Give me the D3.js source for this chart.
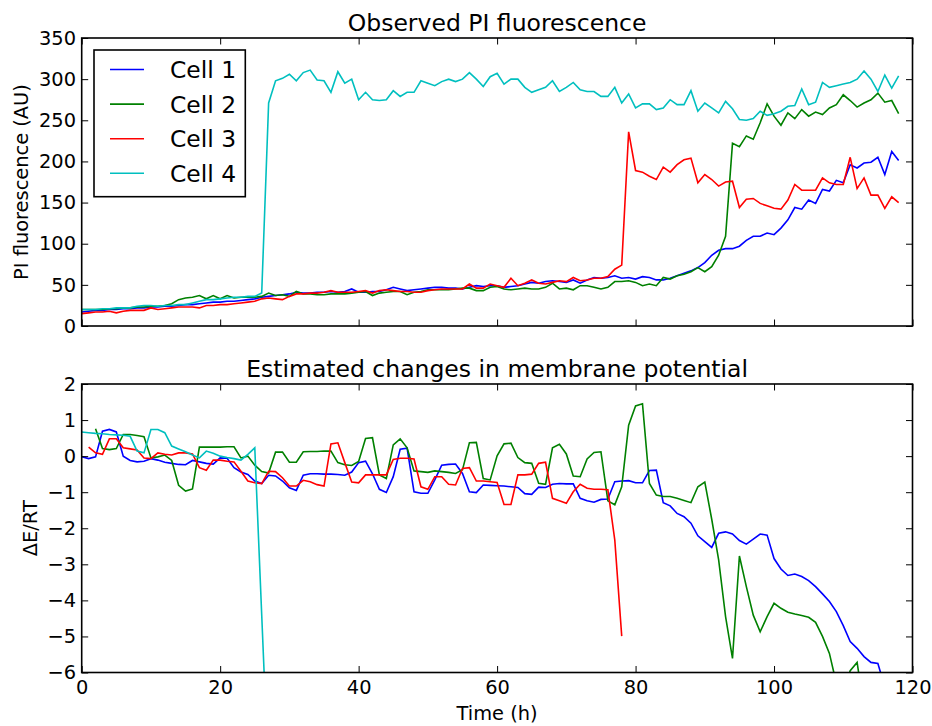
<!DOCTYPE html>
<html>
<head>
<meta charset="utf-8">
<script src="https://cdn.jsdelivr.net/npm/d3@7"></script>
<style>
  html, body { margin: 0; padding: 0; background: #fff; }
  svg { display: block; font-family: "DejaVu Sans", sans-serif; }
</style>
</head>
<body>
<svg id="fig" width="932" height="726"></svg>
<script>
// ---- data: one sample per hour, starting at t = 0 h ----
const cellNames = ["Cell 1", "Cell 2", "Cell 3", "Cell 4"];
const cellColors = ["#0000ff", "#008000", "#ff0000", "#00bfbf"];

// Observed PI fluorescence (AU)
const piCell1 = [17,18,19,19,20,20,21,21,22,22, 23,23,24,24,25,26,26,27,28,29,
  29,30,30,31,32,33,35,36,37,38, 39,41,40,40,41,41,42,41,42,45,
  41,41,42,42,44,47,45,43,44,45, 46,47,47,46,46,45,47,49,48,49,
  49,47,48,49,51,53,52,54,55,54, 53,56,52,56,59,58,59,61,58,59,
  57,60,59,56,56,58,61,64,67,71, 77,86,92,94,94,97,104,109,109,113,
  111,119,129,144,142,153,149,166,164,177, 174,196,192,198,199,205,184,212,201];
const piCell2 = [20,20,20,20,21,21,22,22,23,23, 24,24,25,27,32,34,35,37,33,37,
  33,37,34,35,35,35,36,40,37,38, 36,42,39,39,38,38,39,39,39,40,
  41,42,37,40,41,42,42,38,41,42, 44,44,44,44,45,46,46,43,43,47,
  48,45,44,45,46,45,45,47,52,45, 46,44,49,49,47,45,47,54,54,55,
  53,49,51,49,59,57,61,63,66,71, 66,72,86,109,222,218,231,227,247,270,
  255,244,259,252,263,255,260,257,265,269, 281,274,266,271,275,283,272,274,258];
const piCell3 = [15,16,17,17,18,16,18,19,19,19, 22,20,21,22,23,23,23,22,25,25,
  26,26,27,28,29,30,33,34,33,32, 36,39,39,40,40,41,43,41,41,41,
  42,43,40,43,44,43,42,42,41,41, 43,44,45,45,45,45,51,46,46,51,
  49,47,58,49,52,56,52,51,53,55, 54,59,55,56,58,58,60,69,74,236,
  189,187,182,178,193,187,196,202,204,174, 184,178,170,175,176,144,154,155,149,146,
  143,142,153,172,165,165,165,180,174,172, 172,205,167,180,159,159,143,157,150];
const piCell4 = [20,20,20,21,21,22,22,22,24,25, 25,24,25,25,26,26,28,30,32,32,
  33,34,35,35,36,36,40,271,298,301, 306,298,308,311,299,298,284,309,295,300,
  275,284,275,274,275,286,279,284,284,298, 295,292,297,300,297,300,308,300,291,303,
  307,294,300,300,290,284,287,290,298,285, 290,296,287,285,285,279,279,290,271,282,
  265,270,270,263,265,275,269,269,286,261, 271,265,259,273,264,251,250,252,261,256,
  258,261,267,268,288,269,272,296,290,292, 294,296,300,310,300,285,305,289,304];

// Estimated change in membrane potential (ΔE/RT)
const dECell1 = [-0.02,-0.07,-0.02,0.69,0.74,0.67,0.0,-0.12,-0.16,-0.14,
  -0.07,-0.11,-0.17,-0.2,-0.23,-0.24,-0.12,-0.16,-0.2,-0.22,
  -0.05,-0.06,-0.32,-0.44,-0.51,-0.69,-0.76,-0.53,-0.55,-0.69,
  -0.88,-0.95,-0.53,-0.49,-0.49,-0.5,-0.5,-0.51,-0.53,-0.44,
  -0.18,-0.14,-0.49,-0.92,-1.01,-0.57,0.19,0.22,-0.99,-1.03,
  -1.03,-0.66,-0.25,-0.23,-0.22,-0.48,-0.99,-1.01,-0.8,-0.81,
  -0.82,-0.83,-0.85,-0.87,-1.04,-1.06,-0.86,-0.87,-0.78,-0.76,
  -0.77,-0.77,-1.17,-1.24,-1.28,-1.2,-1.19,-0.71,-0.69,-0.68,
  -0.74,-0.74,-0.4,-0.39,-1.29,-1.38,-1.59,-1.68,-1.86,-2.21,
  -2.37,-2.53,-2.14,-2.1,-2.16,-2.34,-2.44,-2.3,-2.16,-2.19,
  -2.84,-3.13,-3.31,-3.27,-3.34,-3.45,-3.62,-3.82,-4.03,-4.31,
  -4.7,-5.14,-5.33,-5.56,-5.72,-5.75,-6.4];
const dECell2 = [null,null,0.76,0.21,0.18,0.21,0.6,0.6,0.57,0.54,
  -0.05,-0.02,0.03,-0.12,-0.81,-0.97,-0.91,0.25,0.25,0.25,
  0.25,0.26,0.26,-0.05,0.0,-0.25,-0.43,-0.47,0.11,0.11,
  -0.17,-0.17,0.12,0.13,0.13,0.14,0.14,-0.18,-0.24,-0.26,
  -0.15,0.49,0.51,-0.52,-0.62,0.31,0.48,0.23,-0.41,-0.43,
  -0.45,-0.41,-0.43,-0.45,-0.48,-0.38,0.37,0.38,-0.62,-0.66,
  0.01,0.34,0.36,-0.04,-0.18,-0.2,-0.75,-0.78,0.23,0.33,
  0.06,-0.55,-0.57,-0.08,0.1,0.12,-1.24,-1.35,-0.85,0.86,
  1.39,1.45,-0.76,-1.08,-1.12,-1.12,-1.17,-1.23,-1.29,-0.85,
  -0.72,-1.75,-2.88,-4.45,-5.61,-2.77,-3.62,-4.41,-4.87,-4.45,
  -4.08,-4.22,-4.33,-4.38,-4.42,-4.47,-4.61,-5.0,-5.47,-6.3,
  -6.5,-5.95,-5.72,-7.0];
const dECell3 = [null,0.25,0.09,0.05,0.48,0.48,0.23,0.2,0.17,-0.05,
  -0.07,0.09,0.05,0.03,0.09,0.09,0.06,-0.32,-0.39,-0.11,
  -0.11,-0.14,-0.16,-0.42,-0.69,-0.74,-0.76,-0.42,-0.43,-0.6,
  -0.83,-0.83,-0.67,-0.71,-0.79,-0.83,0.34,0.37,-0.18,-0.72,
  -0.74,-0.52,-0.52,-0.52,-0.52,-0.09,-0.06,-0.06,-0.08,-0.85,
  -0.92,-0.57,-0.57,-0.78,-0.8,-0.34,-0.32,-0.69,-0.69,-0.71,
  -0.73,-1.34,-1.34,-0.52,-0.52,-0.5,-0.2,-0.17,-1.17,-1.24,
  -1.31,-0.99,-0.78,-0.89,-0.92,-0.92,-0.93,-2.33,-4.99];
const dECell4 = [0.67,0.65,0.63,0.62,0.6,0.59,0.58,0.55,0.14,0.09,
  0.74,0.74,0.65,0.28,0.2,0.12,0.03,-0.05,0.14,0.08,
  0.0,-0.04,-0.07,-0.11,0.05,0.23,-4.4,-9.0];

const timeTicks = [0, 20, 40, 60, 80, 100, 120];
const piTicks = [0, 50, 100, 150, 200, 250, 300, 350];
const dETicks = [-6, -5, -4, -3, -2, -1, 0, 1, 2];

// ---- layout ----
const svg = d3.select("#fig");
const FONT = "DejaVu Sans";
const tickFs = 19.4, titleFs = 23.5, legendFs = 23.4;
const plotL = 81.7, plotR = 912.5;
const panels = [
  { top: 38, bottom: 326, domain: [0, 350], ticks: piTicks,
    series: [piCell1, piCell2, piCell3, piCell4],
    title: "Observed PI fluorescence", ylabel: "PI fluorescence (AU)", ylabelX: 28, xLabels: false },
  { top: 384, bottom: 672.5, domain: [-6, 2], ticks: dETicks,
    series: [dECell1, dECell2, dECell3, dECell4],
    title: "Estimated changes in membrane potential", ylabel: "\u0394E/RT", ylabelX: 37, xLabels: true }
];

const x = d3.scaleLinear().domain([0, 120]).range([plotL, plotR]);
const tickLen = 6.5;

panels.forEach((p, pi) => {
  const y = d3.scaleLinear().domain(p.domain).range([p.bottom, p.top]);
  const g = svg.append("g");
  const clipId = "clip" + pi;
  svg.append("clipPath").attr("id", clipId)
    .append("rect").attr("x", plotL).attr("y", p.top)
    .attr("width", plotR - plotL).attr("height", p.bottom - p.top);

  // data lines
  const line = d3.line()
    .defined(d => d[1] !== null)
    .x(d => x(d[0])).y(d => y(d[1]));
  const lines = g.append("g").attr("clip-path", `url(#${clipId})`);
  p.series.forEach((s, i) => {
    lines.append("path")
      .datum(s.map((v, t) => [t, v]))
      .attr("d", line)
      .attr("fill", "none")
      .attr("stroke", cellColors[i])
      .attr("stroke-width", 1.6)
      .attr("stroke-linejoin", "miter");
  });

  // axes with inward ticks on all four sides
  const styleAxis = sel => {
    sel.select(".domain").remove();
    sel.selectAll(".tick line").attr("stroke", "#000").attr("stroke-width", 1);
    sel.selectAll(".tick text").attr("fill", "#000");
    sel.attr("font-family", FONT).attr("font-size", tickFs);
  };
  g.append("g").attr("transform", `translate(${plotL},0)`)
    .call(d3.axisLeft(y).tickValues(p.ticks).tickSizeInner(-tickLen).tickSizeOuter(0)
      .tickPadding(5.7).tickFormat(d3.format("d")))
    .call(styleAxis);
  g.append("g").attr("transform", `translate(${plotR},0)`)
    .call(d3.axisRight(y).tickValues(p.ticks).tickSizeInner(-tickLen).tickSizeOuter(0).tickFormat(""))
    .call(styleAxis);
  g.append("g").attr("transform", `translate(0,${p.bottom})`)
    .call(d3.axisBottom(x).tickValues(timeTicks).tickSizeInner(-tickLen).tickSizeOuter(0)
      .tickPadding(8).tickFormat(p.xLabels ? d3.format("d") : ""))
    .call(styleAxis);
  g.append("g").attr("transform", `translate(0,${p.top})`)
    .call(d3.axisTop(x).tickValues(timeTicks).tickSizeInner(-tickLen).tickSizeOuter(0).tickFormat(""))
    .call(styleAxis);

  // frame
  g.append("rect")
    .attr("x", plotL).attr("y", p.top)
    .attr("width", plotR - plotL).attr("height", p.bottom - p.top)
    .attr("fill", "none").attr("stroke", "#000").attr("stroke-width", 1.6);

  // title and y label
  g.append("text")
    .attr("x", (plotL + plotR) / 2).attr("y", p.top - 7.2)
    .attr("text-anchor", "middle")
    .attr("font-family", FONT).attr("font-size", titleFs)
    .text(p.title);
  g.append("text")
    .attr("transform", `translate(${p.ylabelX},${(p.top + p.bottom) / 2}) rotate(-90)`)
    .attr("text-anchor", "middle")
    .attr("font-family", FONT).attr("font-size", tickFs)
    .text(p.ylabel);
});

// x label
svg.append("text")
  .attr("x", (plotL + plotR) / 2).attr("y", 720)
  .attr("text-anchor", "middle")
  .attr("font-family", FONT).attr("font-size", tickFs)
  .text("Time (h)");

// legend in the upper-left corner of the top panel
const legend = svg.append("g");
legend.append("rect")
  .attr("x", 94).attr("y", 50).attr("width", 151.3).attr("height", 146.7)
  .attr("fill", "#fff").attr("stroke", "#000").attr("stroke-width", 1.6);
cellNames.forEach((name, i) => {
  const ry = 69.5 + i * 34.6;
  legend.append("line")
    .attr("x1", 110).attr("x2", 144).attr("y1", ry).attr("y2", ry)
    .attr("stroke", cellColors[i]).attr("stroke-width", 1.6);
  legend.append("text")
    .attr("x", 170).attr("y", ry + 8.4)
    .attr("font-family", FONT).attr("font-size", legendFs)
    .text(name);
});
</script>
</body>
</html>
